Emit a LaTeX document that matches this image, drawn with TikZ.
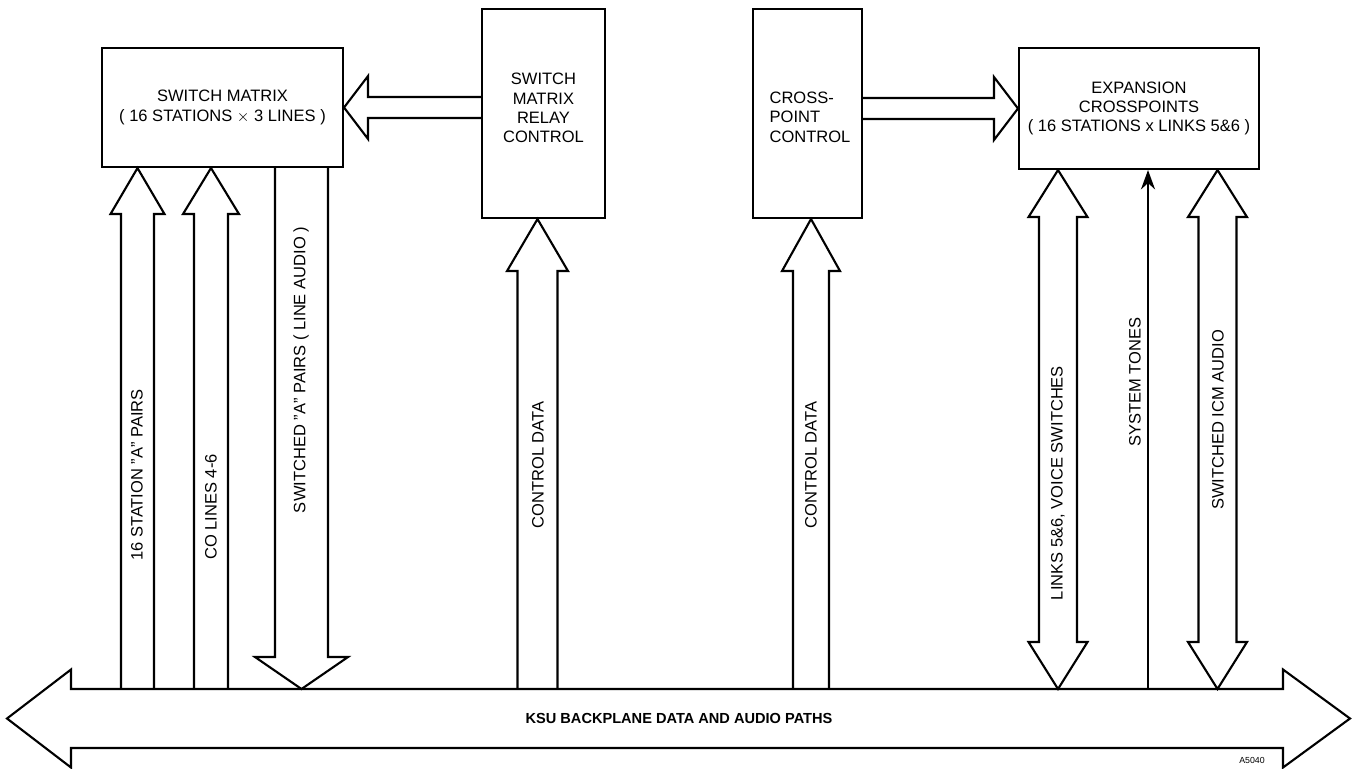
\documentclass[tikz,border=0pt]{standalone}
\usepackage{fontspec}
\setmainfont{Liberation Sans}
\usetikzlibrary{arrows.meta,positioning,calc}
\tikzset{
  blk/.style={draw,line width=1.2pt,align=center,inner sep=2pt},
  fat/.style={draw,line width=1.2pt,line join=miter},
  lbl/.style={rotate=90,inner sep=1pt},
  tone/.style={-{Stealth[length=11pt,width=8pt]},line width=1.2pt}
}
% hollow arrow: base, tip, half shaft, half head, head length (signed)
\newcommand{\fatup}[5]{%
  \draw[fat] ($(#1)+(-#3,0)$) -- ($(#2)+(-#3,#5)$) -- ($(#2)+(-#4,#5)$) -- (#2)
    -- ($(#2)+(#4,#5)$) -- ($(#2)+(#3,#5)$) -- ($(#1)+(#3,0)$);}
\newcommand{\fatside}[5]{%
  \draw[fat] ($(#1)+(0,-#3)$) -- ($(#2)+(#5,-#3)$) -- ($(#2)+(#5,-#4)$) -- (#2)
    -- ($(#2)+(#5,#4)$) -- ($(#2)+(#5,#3)$) -- ($(#1)+(0,#3)$);}
% double hollow arrow: lower tip, upper tip, half shaft, half head, head length
\newcommand{\fatboth}[5]{%
  \draw[fat] (#1) -- ($(#1)+(-#4,-#5)$) -- ($(#1)+(-#3,-#5)$) -- ($(#2)+(-#3,#5)$)
    -- ($(#2)+(-#4,#5)$) -- (#2) -- ($(#2)+(#4,#5)$) -- ($(#2)+(#3,#5)$)
    -- ($(#1)+(#3,-#5)$) -- ($(#1)+(#4,-#5)$) -- cycle;}

\begin{document}
\begin{tikzpicture}[x=0.02cm,y=-0.02cm,font=\fontsize{9.4}{11}\selectfont]
  \useasboundingbox (0,0) rectangle (1358,768);

  % blocks
  \node[blk, minimum width=4.82cm, minimum height=2.38cm] (mtx) at (222.5,107.5)
    {SWITCH MATRIX\\( 16 STATIONS $\times$ 3 LINES )};
  \node[blk, minimum width=2.46cm, minimum height=4.18cm] (relay) at (543.5,113.5) {};
  \node[align=center] (relaytext) at (543.5,108) {SWITCH\\MATRIX\\RELAY\\CONTROL};
  \node[blk, minimum width=2.18cm, minimum height=4.18cm] (xpc) at (807.5,113.5) {};
  \node[align=left] (xpctext) at (810,117) {CROSS-\\POINT\\CONTROL};
  \node[blk, minimum width=4.8cm, minimum height=2.42cm] (exp) at (1139,108.5)
    {EXPANSION\\CROSSPOINTS\\( 16 STATIONS x LINKS 5\&6 )};

  % backplane
  \coordinate (busL) at (7,718.5);
  \coordinate (busR) at (1350,718.5);
  \draw[fat] (busL) -- ($(busL)+(64,-49)$) -- ($(busL)+(64,-29.5)$)
    -- ($(busR)+(-67,-29.5)$) -- ($(busR)+(-67,-49)$) -- (busR)
    -- ($(busR)+(-67,49)$) -- ($(busR)+(-67,29.5)$) -- ($(busL)+(64,29.5)$)
    -- ($(busL)+(64,49)$) -- cycle;
  \node[font=\bfseries\fontsize{8.3}{10}\selectfont] (bus) at (679,718.5)
    {KSU BACKPLANE DATA AND AUDIO PATHS};
  \node[font=\fontsize{5}{6}\selectfont] (code) at (1252,760) {A5040};

  % taps on the backplane
  \coordinate (bA) at (137.5,689);
  \coordinate (bB) at (211,689);
  \coordinate (bC) at (301.5,689);
  \coordinate (bD) at (537.5,689);
  \coordinate (bE) at (811,689);
  \coordinate (bF) at (1058,689);
  \coordinate (bG) at (1148,689);
  \coordinate (bH) at (1217.5,689);
  \coordinate (tA) at (bA |- mtx.south);
  \coordinate (tB) at (bB |- mtx.south);
  \coordinate (tC) at (bC |- mtx.south);
  \coordinate (tD) at (bD |- relay.south);
  \coordinate (tE) at (bE |- xpc.south);
  \coordinate (tF) at (bF |- exp.south);
  \coordinate (tH) at (bH |- exp.south);

  \fatup{bA}{tA}{16.5}{27}{46}
  \fatup{bB}{tB}{17}{28}{46}
  \fatup{tC}{bC}{26.5}{46.5}{-32}
  \fatup{bD}{tD}{20}{30.5}{52}
  \fatup{bE}{tE}{18}{29}{52}
  \fatboth{bF}{tF}{19}{29.5}{47}
  \draw[tone] (bG) -- (bG |- exp.south);
  \fatboth{bH}{tH}{19}{29.5}{47}

  % between the blocks
  \coordinate (rL) at (relay.west |- mtx.east);
  \coordinate (rR) at (xpc.east |- exp.west);
  \fatside{rL}{mtx.east}{10.5}{31.5}{24}
  \fatside{rR}{exp.west}{10.5}{31.5}{-24}

  % labels
  \node[lbl] (lA) at (137,475) {16 STATION ''A'' PAIRS};
  \node[lbl] (lB) at (211,507) {CO LINES 4-6};
  \node[lbl] (lC) at (301,370) {SWITCHED ''A'' PAIRS ( LINE AUDIO )};
  \node[lbl] (lD) at (538,465) {CONTROL DATA};
  \node[lbl] (lE) at (811,465) {CONTROL DATA};
  \node[lbl] (lF) at (1058,483) {LINKS 5\&6, VOICE SWITCHES};
  \node[lbl] (lG) at (1135,382) {SYSTEM TONES};
  \node[lbl] (lH) at (1218,420) {SWITCHED ICM AUDIO};
\end{tikzpicture}
\end{document}
